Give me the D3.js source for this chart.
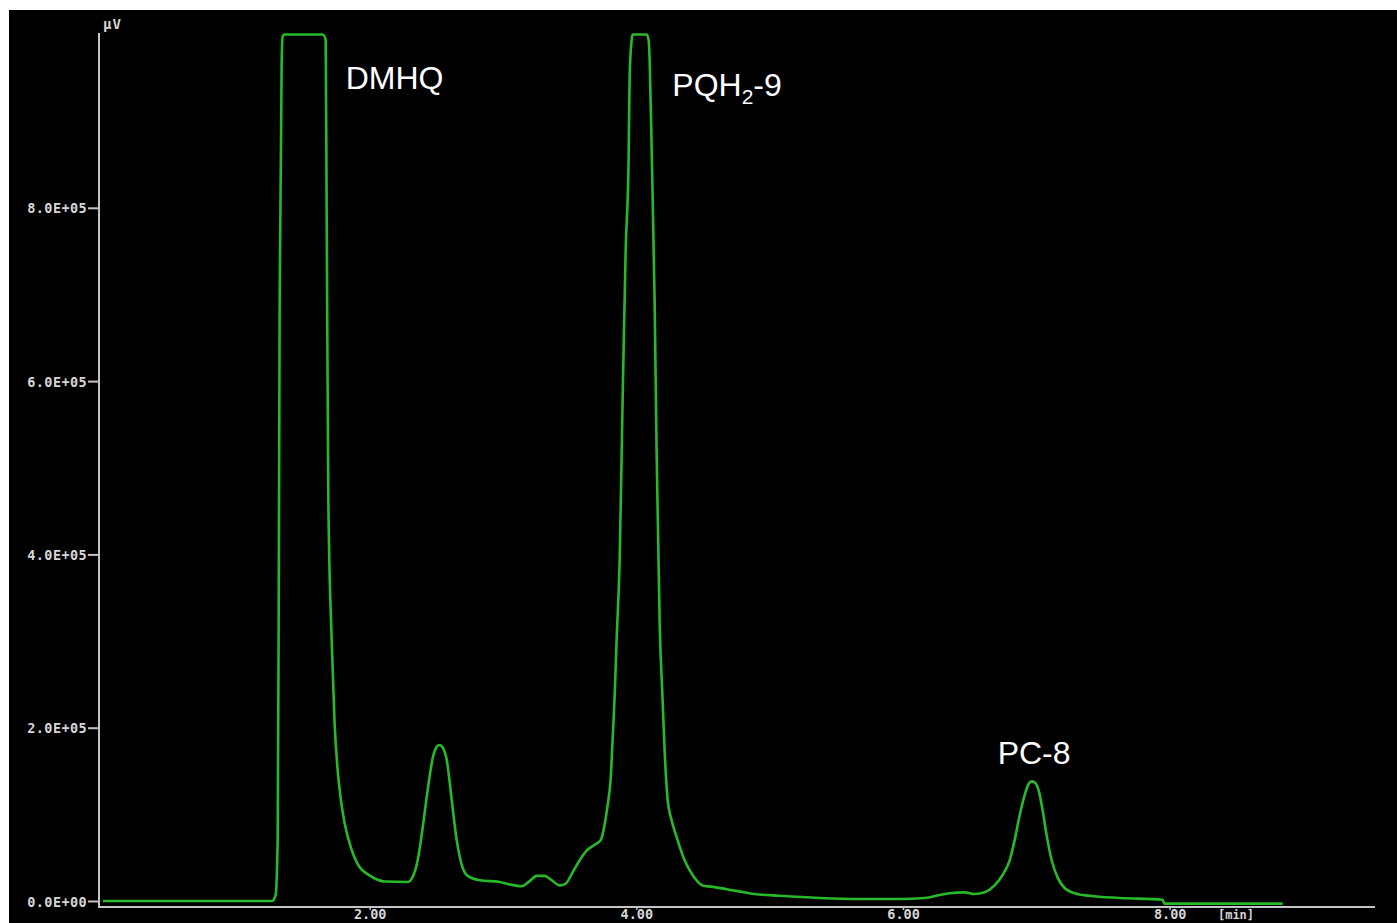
<!DOCTYPE html>
<html>
<head>
<meta charset="utf-8">
<script src="https://cdn.jsdelivr.net/npm/d3@7/dist/d3.min.js"></script>
<style>
html,body{margin:0;padding:0;background:#fff;}
svg{display:block;}
</style>
</head>
<body>
<svg id="chart" width="1397" height="923"></svg>
<script>
// Retention time (min)
const timeMin = [0.00,1.27,1.295,1.31,1.318,1.325,1.34,1.348,1.362,1.648,1.67,1.677,1.69,1.715,1.737,1.76,1.775,1.812,1.865,1.925,1.985,2.038,2.113,2.285,2.32,2.36,2.39,2.435,2.473,2.503,2.525,2.548,2.578,2.615,2.653,2.69,2.735,2.825,2.975,3.087,3.14,3.2,3.252,3.312,3.365,3.425,3.47,3.522,3.575,3.627,3.687,3.732,3.762,3.785,3.807,3.822,3.837,3.852,3.875,3.897,3.92,3.942,3.95,3.965,3.972,4.077,4.092,4.1,4.115,4.137,4.152,4.175,4.197,4.212,4.235,4.265,4.302,4.362,4.422,4.497,4.587,4.737,4.887,5.075,5.375,5.675,5.975,6.162,6.275,6.35,6.462,6.537,6.612,6.687,6.747,6.8,6.837,6.875,6.912,6.942,6.965,6.987,7.017,7.047,7.077,7.115,7.16,7.212,7.287,7.4,7.625,7.947,7.96,8.225,8.847];
// Detector signal (µV)
const signalUV = [0,0,7000,70000,347000,693000,969000,998000,1000000,1000000,994000,809000,463000,301000,205000,151000,128000,90000,59000,39000,31000,26000,22500,22000,27000,47000,76000,128000,165000,178000,180000,177000,163000,117000,70000,42000,29000,24000,22000,18000,17000,23000,29000,29000,24000,18000,20000,33000,47000,58000,65000,70000,88000,111000,140000,186000,235000,301000,394000,578000,751000,855000,953000,994000,1000000,1000000,994000,970000,867000,694000,520000,320000,232000,174000,117000,93000,74000,47000,30000,18000,16000,12000,8000,6000,3500,2300,2300,3500,7000,9000,10000,8000,10000,18000,30000,47000,70000,99000,122000,135000,138000,137000,128000,105000,76000,47000,27000,15000,9000,6000,3500,1500,-3000,-3000,-3000];

const yTickValues = [0, 200000, 400000, 600000, 800000];
const yTickLabels = ["0.0E+00", "2.0E+05", "4.0E+05", "6.0E+05", "8.0E+05"];
const xTickValues = [2, 4, 6, 8];
const xTickLabels = ["2.00", "4.00", "6.00", "8.00"];

const peakNames = ["DMHQ", "PQH2-9", "PC-8"];
const peakLabelTime = [1.82, 4.27, 6.71];
const peakLabelValue = [937000, 929000, 158000];

const svg = d3.select("#chart");
const W = 1397, H = 923;

svg.append("rect").attr("x", 0).attr("y", 0).attr("width", W).attr("height", H).attr("fill", "#ffffff");
svg.append("rect").attr("x", 9).attr("y", 10).attr("width", W - 9).attr("height", H - 10).attr("fill", "#000000");

const x = d3.scaleLinear().domain([-0.03, 9.54]).range([99, 1375]);
const y = d3.scaleLinear().domain([0, 1000000]).range([901, 34.5]);

const axisColor = "#c4c4c4";
const monoFont = "'DejaVu Sans Mono', monospace";

// Y axis
const yAxis = d3.axisLeft(y)
  .tickValues(yTickValues)
  .tickFormat((d, i) => yTickLabels[i])
  .tickSize(11)
  .tickPadding(1)
  .tickSizeOuter(0);
const gy = svg.append("g").attr("transform", "translate(99,0)").call(yAxis);
gy.select(".domain").remove();
gy.selectAll(".tick line").attr("stroke", axisColor).attr("stroke-width", 2);
gy.selectAll(".tick text")
  .attr("fill", "#d6d6d6")
  .attr("font-family", monoFont)
  .attr("font-weight", "bold")
  .attr("font-size", 13.5)
  .attr("letter-spacing", 0.4)
  .attr("dy", "0.38em");
svg.append("line").attr("x1", 99).attr("x2", 99).attr("y1", 33).attr("y2", 907)
  .attr("stroke", axisColor).attr("stroke-width", 2);

// X axis
const xAxis = d3.axisBottom(x)
  .tickValues(xTickValues)
  .tickFormat((d, i) => xTickLabels[i])
  .tickSize(3)
  .tickPadding(2)
  .tickSizeOuter(0);
const gx = svg.append("g").attr("transform", "translate(0,907)").call(xAxis);
gx.select(".domain").remove();
gx.selectAll(".tick line").attr("stroke", axisColor).attr("stroke-width", 1.5);
gx.selectAll(".tick text")
  .attr("fill", "#d6d6d6")
  .attr("font-family", monoFont)
  .attr("font-weight", "bold")
  .attr("font-size", 13.5)
  .attr("dy", "0.5em");
svg.append("line").attr("x1", 98).attr("x2", 1375).attr("y1", 907).attr("y2", 907)
  .attr("stroke", axisColor).attr("stroke-width", 2);

// unit labels
svg.append("text").attr("x", 1236).attr("y", 919).attr("text-anchor", "middle")
  .attr("fill", "#d6d6d6").attr("font-family", monoFont).attr("font-weight", "bold")
  .attr("font-size", 12).text("[min]");
svg.append("text").attr("x", 103).attr("y", 29)
  .attr("fill", "#d6d6d6").attr("font-family", monoFont).attr("font-weight", "bold")
  .attr("font-size", 14).attr("letter-spacing", 1).text("µV");

// chromatogram
const line = d3.line()
  .x((d, i) => x(timeMin[i]))
  .y((d) => y(d))
  .curve(d3.curveMonotoneX);
svg.append("path")
  .datum(signalUV)
  .attr("d", line)
  .attr("fill", "none")
  .attr("stroke", "#27b927")
  .attr("stroke-width", 2.6)
  .attr("stroke-linejoin", "round");

// peak labels
const labelFont = "'Liberation Sans', Arial, sans-serif";
peakNames.forEach((name, i) => {
  const t = svg.append("text")
    .attr("x", x(peakLabelTime[i]))
    .attr("y", y(peakLabelValue[i]))
    .attr("fill", "#ffffff")
    .attr("font-family", labelFont)
    .attr("font-size", 32);
  const m = name.match(/^([A-Z]+)(\d)(-.*)$/);
  if (m) {
    t.append("tspan").text(m[1]);
    t.append("tspan").attr("font-size", 21).attr("dy", 8).text(m[2]);
    t.append("tspan").attr("dy", -8).text(m[3]);
  } else {
    t.text(name);
  }
});
</script>
</body>
</html>
